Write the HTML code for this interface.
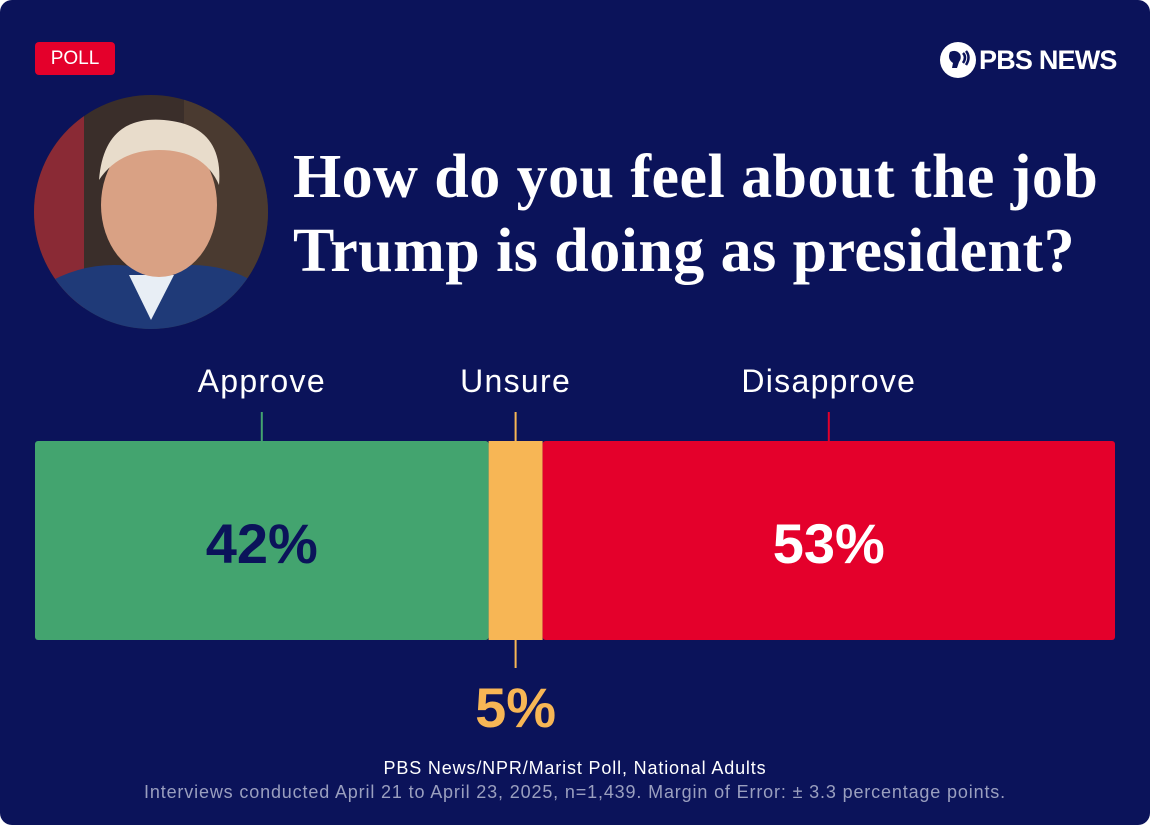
<!DOCTYPE html>
<html><head><meta charset="utf-8">
<style>
html,body{margin:0;padding:0;background:#fff;}
#card{position:relative;width:1150px;height:825px;background:#0b135a;border-radius:12px;overflow:hidden;font-family:"Liberation Sans",sans-serif;color:#fff;}
#poll{position:absolute;left:35px;top:42px;width:80px;height:33px;background:#e4002b;border-radius:4px;font-size:19px;line-height:33px;text-align:center;}
#logo{position:absolute;left:940px;top:40px;height:40px;display:flex;align-items:center;font-weight:bold;font-size:27px;letter-spacing:-0.8px;}
#title{position:absolute;left:293px;top:140px;font-family:"Liberation Serif",serif;font-size:62px;line-height:74px;font-weight:bold;letter-spacing:0.45px;white-space:nowrap;}
#photo{position:absolute;left:34px;top:95px;width:234px;height:234px;border-radius:50%;overflow:hidden;}
.src{position:absolute;left:0;width:1150px;text-align:center;font-size:18px;letter-spacing:0.85px;}
</style></head><body>
<div id="card">
<div id="poll">POLL</div>
<div id="logo">
<svg width="36" height="36" viewBox="0 0 36 36" style="margin-right:3px"><circle cx="18" cy="18" r="18" fill="#fff"/><path d="M10 10 q6-3 10 2 q2 4-1 8 l-2 6 h-5 l1-5 q-6-4-3-11z" fill="#0b135a"/><path d="M23 11 q4 4 0 10 M26 9 q5 6 0 14" stroke="#0b135a" stroke-width="2.5" fill="none"/></svg>PBS NEWS</div>
<div id="photo">
<svg width="234" height="234" viewBox="0 0 234 234">
<rect width="234" height="234" fill="#3a2e2a"/>
<rect x="0" y="0" width="50" height="234" fill="#8a2a35"/>
<rect x="150" y="0" width="84" height="234" fill="#4a3a30"/>
<path d="M0 234 L10 190 Q60 160 117 175 Q180 160 225 190 L234 234Z" fill="#1f3a78"/>
<path d="M95 180 L117 225 L140 180Z" fill="#e8eef5"/>
<ellipse cx="125" cy="110" rx="58" ry="72" fill="#d9a184"/>
<path d="M65 85 Q70 20 130 25 Q190 30 185 90 Q170 55 125 55 Q85 55 65 85Z" fill="#e8dccb"/>
</svg></div>
<div id="title">How do you feel about the job<br>Trump is doing as president?</div>
<svg id="chart" width="1150" height="825" style="position:absolute;left:0;top:0"></svg>
<div class="src" style="top:758px;">PBS News/NPR/Marist Poll, National Adults</div>
<div class="src" style="top:782px;color:#9a9fbf;">Interviews conducted April 21 to April 23, 2025, n=1,439. Margin of Error: ± 3.3 percentage points.</div>
</div>
<script>
const categories=["Approve","Unsure","Disapprove"];
const values=[42,5,53];
const colors=["#43a46f","#f7b655","#e4002b"];
const textColors=["#0b135a","#f7b655","#ffffff"];
const svg=document.getElementById('chart');
const NS="http://www.w3.org/2000/svg";
const x0=35,x1=1115,yTop=441,yBot=640;
const total=values.reduce((a,b)=>a+b,0);
const xs=v=>x0+(x1-x0)*v/total;
let cum=0;
values.forEach((v,i)=>{
 const a=xs(cum),b=xs(cum+v);cum+=v;const c=(a+b)/2;
 const r=document.createElementNS(NS,'rect');
 r.setAttribute('x',a);r.setAttribute('y',yTop);r.setAttribute('width',b-a);r.setAttribute('height',yBot-yTop);r.setAttribute('fill',colors[i]);
 if(i==0||i==2){r.setAttribute('rx',3);}
 
 
 svg.appendChild(r);
 const l=document.createElementNS(NS,'line');
 l.setAttribute('x1',c);l.setAttribute('x2',c);l.setAttribute('y1',412);l.setAttribute('y2',441);l.setAttribute('stroke',colors[i]);l.setAttribute('stroke-width',2);
 
 
 svg.appendChild(l);
 const t=document.createElementNS(NS,'text');
 t.setAttribute('x',c);t.setAttribute('y',392);t.setAttribute('text-anchor','middle');t.setAttribute('fill','#fff');t.setAttribute('font-size','32');t.setAttribute('font-family','Liberation Sans, sans-serif');t.setAttribute('letter-spacing','1.3');
 t.textContent=categories[i];
 
 
 svg.appendChild(t);
 const p=document.createElementNS(NS,'text');
 p.setAttribute('text-anchor','middle');p.setAttribute('fill',textColors[i]);p.setAttribute('font-size','56');p.setAttribute('font-weight','bold');p.setAttribute('font-family','Liberation Sans, sans-serif');p.setAttribute('x',c);
 if(b-a<100){
  p.setAttribute('y',727);
  const l2=document.createElementNS(NS,'line');
  l2.setAttribute('x1',c);l2.setAttribute('x2',c);l2.setAttribute('y1',640);l2.setAttribute('y2',668);l2.setAttribute('stroke',colors[i]);l2.setAttribute('stroke-width',2);
  
  
  svg.appendChild(l2);
 } else p.setAttribute('y',563);
 p.textContent=v+'%';
 
 
 svg.appendChild(p);
});
</script>
</body></html>
